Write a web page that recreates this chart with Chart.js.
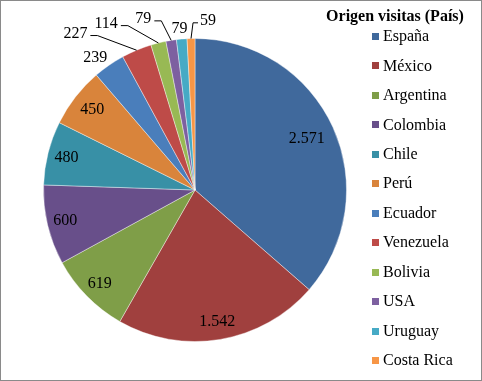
<!DOCTYPE html>
<html lang="es">
  <head>
    <meta charset="UTF-8" />
    <title>Origen visitas (País)</title>
    <script src="https://cdn.jsdelivr.net/npm/chart.js"></script>
    <style>
      * {
        margin: 0;
        padding: 0;
        box-sizing: border-box;
      }
      body {
        background: #ffffff;
        font-family: "Liberation Serif", "DejaVu Serif", serif;
      }
      #chartBox {
        width: 482px;
        height: 381px;
      }
      .preload {
        position: absolute;
        left: -1000px;
        top: 0;
        font-family: "Liberation Serif", "DejaVu Serif", serif;
      }
    </style>
  </head>
  <body>
    <div id="chartBox">
      <canvas id="pieChart" width="482" height="381"></canvas>
    </div>
    <span class="preload">Origen <b>visitas</b></span>
    <script>
      // Datos del gráfico
      const legendTitle = "Origen visitas (País)";
      const countries = [
        "España", "México", "Argentina", "Colombia", "Chile", "Perú",
        "Ecuador", "Venezuela", "Bolivia", "USA", "Uruguay", "Costa Rica"
      ];
      const visits = [2571, 1542, 619, 600, 480, 450, 239, 227, 114, 79, 79, 59];
      const sliceColors = [
        "#40699C", "#A0403E", "#7F9E48", "#684F8A", "#3890A6", "#D9843B",
        "#4A7EBB", "#BE4B48", "#98B954", "#7D60A0", "#46AAC5", "#F79646"
      ];

      // Colocación de etiquetas: dentro (factor del radio) o fuera (ángulo reloj + factor)
      const labelPlacement = [
        { r: 0.81 }, { r: 0.88 }, { r: 0.88 }, { r: 0.88 }, { r: 0.875 }, { r: 0.86 },
        { a: 323, r: 1.095 },
        { a: 322.6, r: 1.3, leader: true },
        { a: 331.9, r: 1.245, leader: true },
        { a: 343.2, r: 1.18, leader: true },
        { a: 354.5, r: 1.07 },
        { a: 4.4, r: 1.12, leader: true }
      ];

      const FONT = "'Liberation Serif', 'DejaVu Serif', serif";

      // separador de miles con punto
      function fmt(v) {
        return String(v).replace(/\B(?=(\d{3})+(?!\d))/g, ".");
      }

      const framePlugin = {
        id: "frame",
        beforeDraw(chart) {
          const c = chart.ctx;
          c.save();
          c.fillStyle = "#ffffff";
          c.fillRect(0, 0, chart.width, chart.height);
          c.restore();
        },
        afterDraw(chart) {
          const c = chart.ctx;
          c.save();
          c.strokeStyle = "#8a8a8a";
          c.lineWidth = 1;
          c.strokeRect(0.5, 0.5, chart.width - 1, chart.height - 1);
          c.restore();
        }
      };

      const labelsPlugin = {
        id: "sliceLabels",
        afterDatasetsDraw(chart) {
          const c = chart.ctx;
          const meta = chart.getDatasetMeta(0);
          c.save();
          c.font = "16px " + FONT;
          c.fillStyle = "#000000";
          c.textAlign = "center";
          c.textBaseline = "middle";
          meta.data.forEach((arc, i) => {
            const p = arc.getProps(["x", "y", "startAngle", "endAngle", "outerRadius"], true);
            const mid = (p.startAngle + p.endAngle) / 2;
            const place = labelPlacement[i];
            const txt = fmt(visits[i]);
            let lx, ly;
            if (place.a === undefined) {
              lx = p.x + Math.cos(mid) * p.outerRadius * place.r;
              ly = p.y + Math.sin(mid) * p.outerRadius * place.r;
            } else {
              const rad = (place.a * Math.PI) / 180;
              lx = p.x + Math.sin(rad) * p.outerRadius * place.r;
              ly = p.y - Math.cos(rad) * p.outerRadius * place.r;
            }
            c.fillText(txt, lx, ly);
            if (place.leader) {
              const w = c.measureText(txt).width;
              const ex = p.x + Math.cos(mid) * p.outerRadius;
              const ey = p.y + Math.sin(mid) * p.outerRadius;
              c.beginPath();
              c.strokeStyle = "#000000";
              c.lineWidth = 1;
              if (lx < ex) {
                const sx = lx + w / 2 + 3;
                c.moveTo(sx, ly + 2);
                c.lineTo(sx + 7, ly + 2);
              } else {
                const sx = lx - w / 2 - 2;
                c.moveTo(sx, ly + 2);
                c.lineTo(sx - 5, ly + 2);
              }
              c.lineTo(ex, ey);
              c.stroke();
            }
          });
          c.restore();
        }
      };

      const legendPlugin = {
        id: "sideLegend",
        afterDraw(chart) {
          const c = chart.ctx;
          c.save();
          c.fillStyle = "#000000";
          c.textBaseline = "middle";
          c.textAlign = "center";
          c.font = "bold 16px " + FONT;
          c.fillText(legendTitle, 395, 17);
          c.font = "16px " + FONT;
          c.textAlign = "left";
          countries.forEach((name, i) => {
            const y = 37 + i * 29.45;
            c.fillStyle = sliceColors[i];
            c.fillRect(372, Math.round(y) - 4, 7, 7);
            c.fillStyle = "#000000";
            c.fillText(name, 383, y);
          });
          c.restore();
        }
      };

      function drawChart() {
        const ctx = document.getElementById("pieChart").getContext("2d");
        new Chart(ctx, {
          type: "pie",
          data: {
            labels: countries,
            datasets: [
              {
                data: visits,
                backgroundColor: sliceColors,
                borderColor: "rgba(255, 255, 255, 0.4)",
                borderWidth: 1
              }
            ]
          },
          options: {
            responsive: false,
            animation: false,
            layout: {
              padding: { left: 43, top: 38, right: 135, bottom: 39 }
            },
            plugins: {
              legend: { display: false },
              tooltip: { enabled: false }
            }
          },
          plugins: [framePlugin, labelsPlugin, legendPlugin]
        });
      }

      Promise.all([
        document.fonts.load("16px 'Liberation Serif'"),
        document.fonts.load("bold 16px 'Liberation Serif'")
      ]).then(drawChart, drawChart);
    </script>
  </body>
</html>
